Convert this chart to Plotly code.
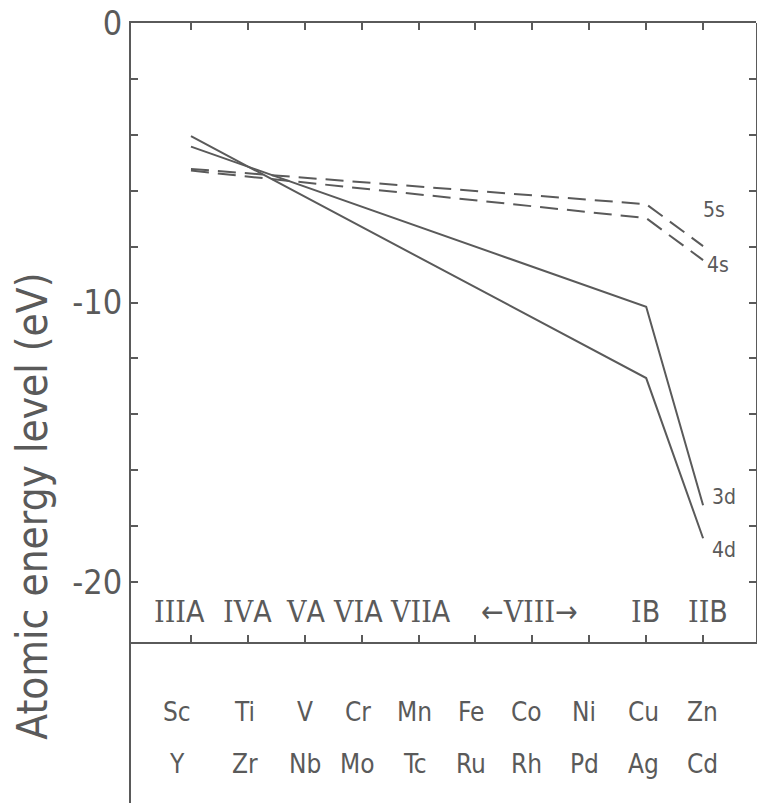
import plotly.graph_objects as go

# ---------------- data ----------------
row1_elements = ["Sc", "Ti", "V", "Cr", "Mn", "Fe", "Co", "Ni", "Cu", "Zn"]
row2_elements = ["Y", "Zr", "Nb", "Mo", "Tc", "Ru", "Rh", "Pd", "Ag", "Cd"]
group_numerals = ["III", "IV", "V", "VI", "VII", "VIII", "I", "II"]
group_suffixes = ["A", "A", "A", "A", "A", "", "B", "B"]
group_columns = [0, 1, 2, 3, 4, 6, 8, 9]

# the curves are drawn as straight segments between these columns
curve_columns = [0, 8, 9]            # IIIA, IB, IIB
level_3d = [-4.42, -10.15, -17.25]
level_4d = [-4.05, -12.70, -18.43]
level_4s = [-5.28, -6.98, -8.48]
level_5s = [-5.22, -6.48, -7.98]

y_ticks = [0, -2, -4, -6, -8, -10, -12, -14, -16, -18, -20]
y_tick_text = ["0", "", "", "", "", "-10", "", "", "", "", "-20"]

# ---------------- styling ----------------
INK = "#5a5a5a"
NARROW = "DejaVu Sans Condensed, Liberation Sans Narrow, Liberation Sans, sans-serif"
SERIF = "DejaVu Serif Condensed, Liberation Serif, serif"

y_min, y_sep = -27.9, -22.15
x_range = [-1.054, 9.93]
sep_frac = (y_sep - y_min) / (0 - y_min)

fig = go.Figure()

solid = dict(color=INK, width=2)
dashed = dict(color=INK, width=2, dash="18px,9px")

series = [
    ("3d", level_3d, solid, 21, 8),
    ("4d", level_4d, solid, 21, -12),
    ("4s", level_4s, dashed, 15, -5),
    ("5s", level_5s, dashed, 11, 36),
]
for name, vals, style, dx, dy in series:
    fig.add_trace(go.Scatter(x=curve_columns, y=vals, mode="lines", line=style,
                             name=name, showlegend=False, hoverinfo="skip"))
    fig.add_annotation(x=curve_columns[-1], y=vals[-1], xref="x", yref="y",
                       text=name, showarrow=False, xshift=dx, yshift=dy,
                       font=dict(family=NARROW, size=21, color=INK))

# invisible trace to activate the lower-framed subplot (x2/y2)
fig.add_trace(go.Scatter(x=[0], y=[0], xaxis="x2", yaxis="y2", mode="markers",
                         marker=dict(opacity=0), showlegend=False, hoverinfo="skip"))

# element labels
col_shift = [-14, -3, 0, -4, -4, -4, -6, -5, -3, -1]
for i, (a, b) in enumerate(zip(row1_elements, row2_elements)):
    fig.add_annotation(x=i, y=-24.65, xref="x", yref="y", text=a, showarrow=False,
                       xshift=col_shift[i], font=dict(family=NARROW, size=26, color=INK))
    fig.add_annotation(x=i, y=-26.5, xref="x", yref="y", text=b, showarrow=False,
                       xshift=col_shift[i], font=dict(family=NARROW, size=26, color=INK))

# group labels
grp_shift = [-11, 0, 1, -4, 2, -3, -1, 5]
for num, suf, c, s in zip(group_numerals, group_suffixes, group_columns, grp_shift):
    numeral = f"<span style='font-family:{SERIF}'>{num}</span>"
    if suf:
        text = numeral + suf
    else:
        text = "←" + numeral + "→"
    fig.add_annotation(x=c, y=-21.06, xref="x", yref="y", text=text, showarrow=False,
                       xshift=s, font=dict(family=NARROW, size=30, color=INK))

# y-axis title
fig.add_annotation(x=-0.159, y=-17.28, xref="paper", yref="y",
                   text="Atomic energy level (eV)", showarrow=False, textangle=-90,
                   xanchor="center", yanchor="middle",
                   font=dict(family=NARROW, size=42, color=INK))

axis_common = dict(showgrid=False, zeroline=False, linecolor=INK, linewidth=2,
                   tickcolor=INK, tickwidth=2, ticklen=7, ticks="inside", showline=True,
                   automargin=False)

fig.update_layout(
    width=757, height=803,
    margin=dict(l=131, r=1, t=23, b=0, autoexpand=False),
    paper_bgcolor="white", plot_bgcolor="rgba(0,0,0,0)",
    showlegend=False,
    xaxis=dict(range=x_range, side="top", tickvals=list(range(10)),
               showticklabels=False, anchor="y", domain=[0, 1], **axis_common),
    yaxis=dict(range=[y_min, 0], tickvals=y_ticks, ticktext=y_tick_text,
               tickfont=dict(family=NARROW, size=34, color=INK),
               ticklabeloverflow="allow",
               anchor="x", domain=[0, 1], **axis_common),
    xaxis2=dict(range=x_range, matches="x", side="bottom", tickvals=list(range(10)),
                showticklabels=False, anchor="y2", domain=[0, 1], **axis_common),
    yaxis2=dict(range=[y_sep, 0], side="right", tickvals=y_ticks,
                showticklabels=False, anchor="x2", domain=[sep_frac, 1], **axis_common),
)

fig.write_html("out.html", config={"displayModeBar": False},
               post_script="document.body.style.margin='0';document.body.style.overflow='hidden';")
